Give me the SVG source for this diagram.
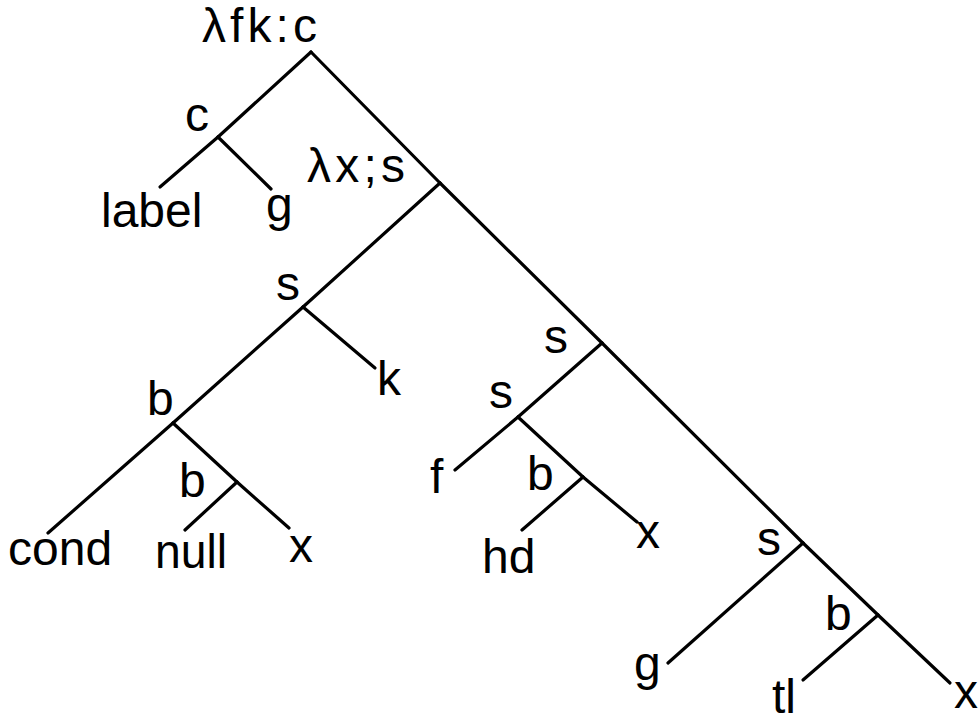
<svg xmlns="http://www.w3.org/2000/svg" width="979" height="724" viewBox="0 0 979 724">
<style>
  .e { stroke: #000; stroke-width: 3.2; stroke-linecap: round; fill: none; }
  text { font-family: "Liberation Sans", "DejaVu Sans", sans-serif; font-size: 48px; fill: #000; }
</style>
<rect width="979" height="724" fill="#fff"/>
<g id="connectors">
  <line class="e" x1="311" y1="52" x2="218" y2="137"/>
  <line class="e" x1="218" y1="137" x2="160" y2="187"/>
  <line class="e" x1="218" y1="137" x2="271" y2="189"/>
  <line class="e" x1="311" y1="52" x2="440" y2="183"/>
  <line class="e" x1="440" y1="183" x2="303" y2="307"/>
  <line class="e" x1="303" y1="307" x2="173" y2="423"/>
  <line class="e" x1="173" y1="423" x2="48" y2="533"/>
  <line class="e" x1="173" y1="423" x2="237" y2="482"/>
  <line class="e" x1="237" y1="482" x2="185" y2="530"/>
  <line class="e" x1="237" y1="482" x2="289" y2="528"/>
  <line class="e" x1="303" y1="307" x2="375" y2="368"/>
  <line class="e" x1="440" y1="183" x2="602" y2="343"/>
  <line class="e" x1="602" y1="343" x2="518" y2="417"/>
  <line class="e" x1="518" y1="417" x2="455" y2="470"/>
  <line class="e" x1="518" y1="417" x2="583" y2="477"/>
  <line class="e" x1="583" y1="477" x2="522" y2="530"/>
  <line class="e" x1="583" y1="477" x2="637" y2="522"/>
  <line class="e" x1="602" y1="343" x2="803" y2="543"/>
  <line class="e" x1="803" y1="543" x2="668" y2="663"/>
  <line class="e" x1="803" y1="543" x2="878" y2="615"/>
  <line class="e" x1="878" y1="615" x2="803" y2="680"/>
  <line class="e" x1="878" y1="615" x2="950" y2="683"/>
</g>
<g id="n-root"><text x="202" y="42" font-size="41" textLength="115" lengthAdjust="spacing">λfk:c</text></g>
<g id="n-c"><text x="185" y="131" font-size="42">c</text></g>
<g id="n-label"><text x="101" y="227">label</text></g>
<g id="n-g1"><text x="266" y="221">g</text></g>
<g id="n-lx"><text x="307" y="182" font-size="36" textLength="98" lengthAdjust="spacing">λx;s</text></g>
<g id="n-s1"><text x="276" y="300">s</text></g>
<g id="n-k"><text x="377" y="395">k</text></g>
<g id="n-b1"><text x="147" y="415">b</text></g>
<g id="n-b2"><text x="179" y="497">b</text></g>
<g id="n-cond"><text x="8" y="565">cond</text></g>
<g id="n-null"><text x="155" y="568" textLength="72" lengthAdjust="spacingAndGlyphs">null</text></g>
<g id="n-x1"><text x="289" y="562">x</text></g>
<g id="n-s2"><text x="544" y="353">s</text></g>
<g id="n-s3"><text x="489" y="408">s</text></g>
<g id="n-f"><text x="430" y="493">f</text></g>
<g id="n-b3"><text x="527" y="490">b</text></g>
<g id="n-hd"><text x="482" y="573">hd</text></g>
<g id="n-x2"><text x="636" y="548">x</text></g>
<g id="n-s4"><text x="757" y="555">s</text></g>
<g id="n-g2"><text x="634" y="680">g</text></g>
<g id="n-b4"><text x="825" y="630">b</text></g>
<g id="n-tl"><text x="772" y="713" font-size="44">tl</text></g>
<g id="n-x3"><text x="954" y="708" font-size="46">x</text></g>
</svg>
